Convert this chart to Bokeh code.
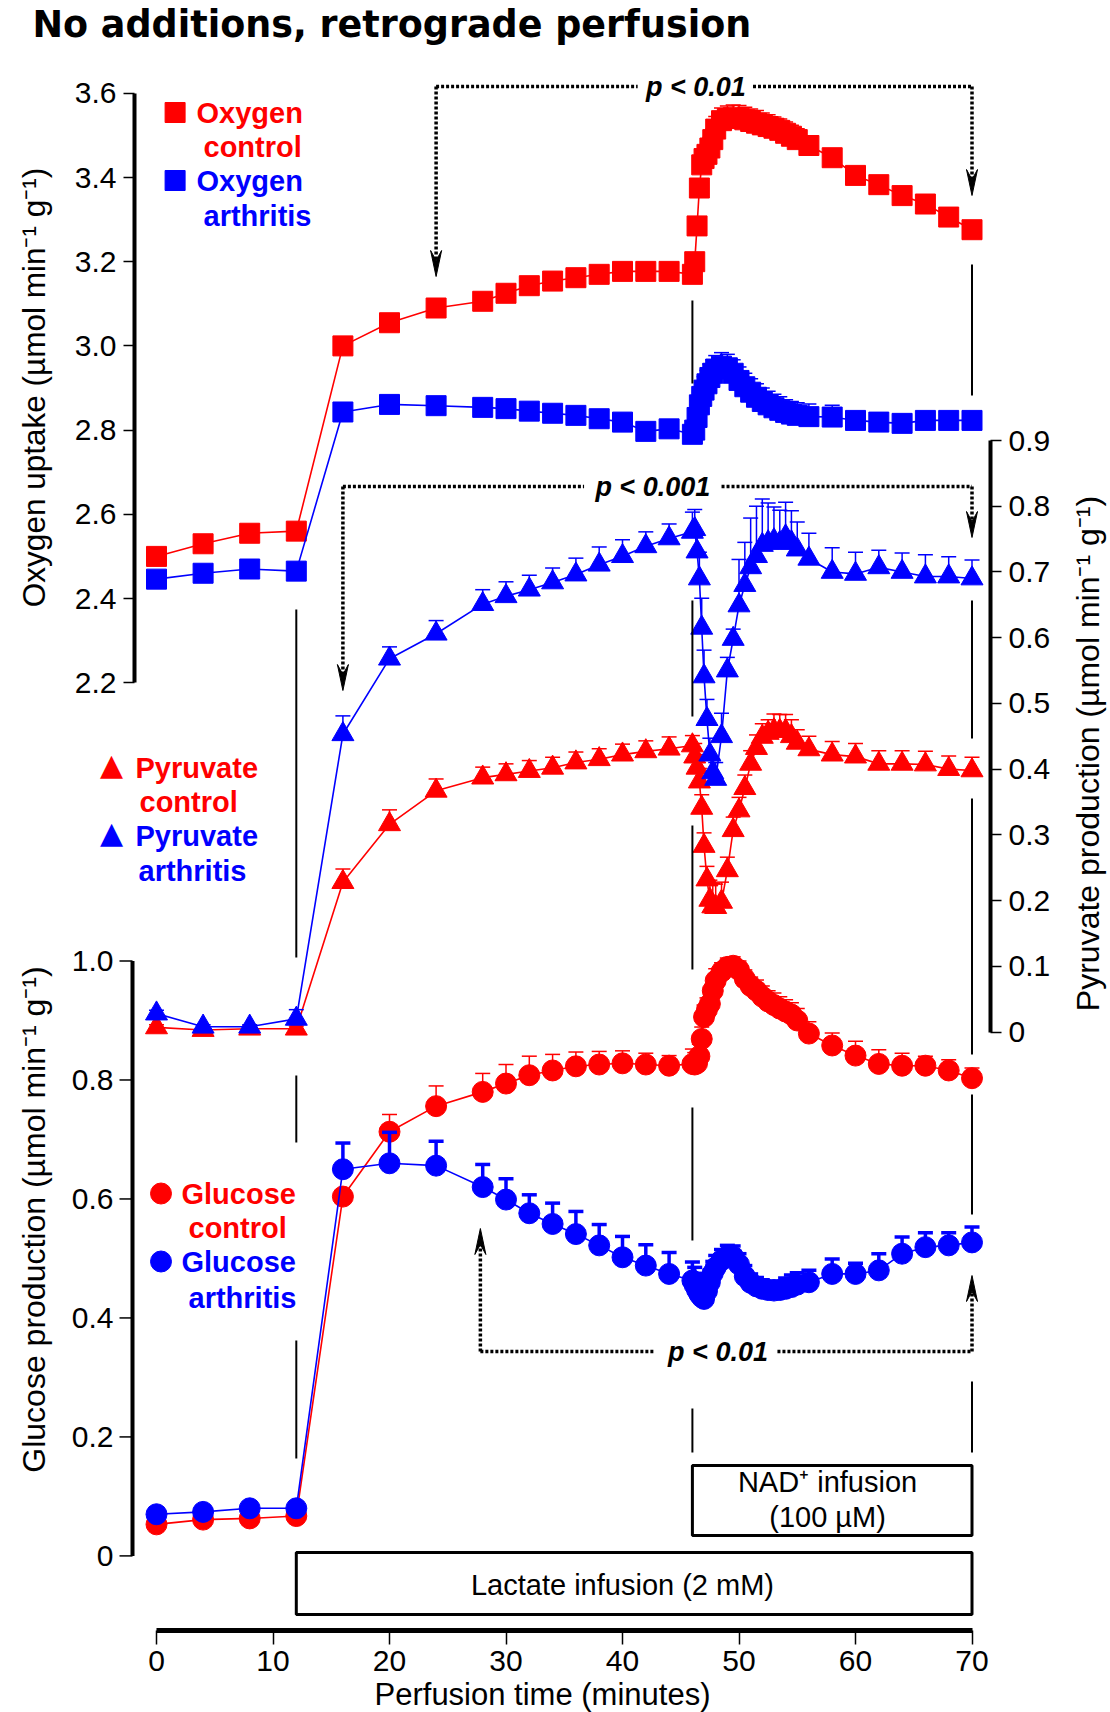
import math
from bokeh.plotting import figure
from bokeh.models import Range1d, LinearAxis, FixedTicker, Grid, NumeralTickFormatter
from bokeh.core.properties import value
from bokeh.embed import file_html
from bokeh.resources import INLINE

# ---------------- data ----------------
time_min = [0, 4, 8, 12,
            16, 20, 24, 28, 30, 32, 34, 36, 38, 40, 42, 44,
            46, 46.2, 46.4, 46.6, 46.8, 47, 47.25, 47.5, 47.75, 48, 48.5, 49, 49.5,
            50, 50.5, 51, 51.5, 52, 52.5, 53, 53.5, 54, 54.5, 55, 56,
            58, 60, 62, 64, 66, 68, 70]

oxygen_control = [2.50, 2.53, 2.555, 2.56,
                  3.00, 3.055, 3.09, 3.106, 3.125, 3.143, 3.154, 3.162, 3.170, 3.177, 3.177, 3.177,
                  3.17, 3.20, 3.285, 3.375, 3.43, 3.445, 3.455, 3.47, 3.49, 3.515, 3.535, 3.54, 3.542,
                  3.541, 3.537, 3.533, 3.529, 3.525, 3.521, 3.517, 3.512, 3.505, 3.498, 3.49, 3.476,
                  3.447, 3.405, 3.383, 3.357, 3.337, 3.306, 3.276]
oxygen_control_sem = [0.01, 0.01, 0.01, 0.01,
                      0.012, 0.012, 0.012, 0.012, 0.012, 0.012, 0.012, 0.012, 0.012, 0.012, 0.012, 0.012,
                      0.01, 0.01, 0.015, 0.02, 0.02, 0.02, 0.02, 0.025, 0.025, 0.03, 0.03, 0.03, 0.03,
                      0.03, 0.03, 0.03, 0.03, 0.028, 0.028, 0.027, 0.027, 0.027, 0.026, 0.026, 0.02,
                      0.015, 0.015, 0.015, 0.015, 0.015, 0.015, 0.015]

oxygen_arthritis = [2.446, 2.46, 2.47, 2.465,
                    2.843, 2.861, 2.858, 2.854, 2.851, 2.845, 2.840, 2.835, 2.827, 2.819, 2.797, 2.803,
                    2.79, 2.80, 2.83, 2.86, 2.88, 2.895, 2.91, 2.925, 2.935, 2.945, 2.952, 2.948, 2.935,
                    2.918, 2.903, 2.89, 2.878, 2.868, 2.86, 2.853, 2.847, 2.842, 2.838, 2.835, 2.832,
                    2.831, 2.823, 2.819, 2.816, 2.823, 2.823, 2.823]
oxygen_arthritis_sem = [0.008, 0.008, 0.008, 0.008,
                        0.01, 0.01, 0.01, 0.01, 0.01, 0.01, 0.01, 0.01, 0.01, 0.01, 0.01, 0.01,
                        0.02, 0.025, 0.03, 0.03, 0.032, 0.032, 0.032, 0.032, 0.032, 0.032, 0.032, 0.032, 0.032,
                        0.032, 0.032, 0.032, 0.032, 0.032, 0.032, 0.032, 0.032, 0.03, 0.03, 0.03, 0.03,
                        0.028, 0.02, 0.015, 0.015, 0.015, 0.015, 0.015]

pyruvate_control = [0.007, 0.003, 0.005, 0.005,
                    0.228, 0.316, 0.367, 0.387, 0.392, 0.397, 0.402, 0.410, 0.415, 0.422, 0.427, 0.431,
                    0.436, 0.419, 0.402, 0.381, 0.341, 0.283, 0.232, 0.201, 0.191, 0.19, 0.198, 0.246, 0.307,
                    0.337, 0.371, 0.408, 0.432, 0.449, 0.455, 0.459, 0.458, 0.458, 0.45, 0.44, 0.43,
                    0.422, 0.419, 0.408, 0.408, 0.407, 0.400, 0.398]
pyruvate_control_sem = [0.004, 0.004, 0.004, 0.004,
                        0.02, 0.022, 0.018, 0.016, 0.016, 0.016, 0.016, 0.016, 0.016, 0.016, 0.016, 0.018,
                        0.015, 0.02, 0.02, 0.02, 0.02, 0.02, 0.02, 0.03, 0.035, 0.035, 0.03, 0.02, 0.02,
                        0.02, 0.02, 0.02, 0.02, 0.02, 0.02, 0.025, 0.025, 0.025, 0.025, 0.02, 0.02,
                        0.02, 0.02, 0.02, 0.02, 0.02, 0.02, 0.02]

pyruvate_arthritis = [0.028, 0.008, 0.008, 0.02,
                      0.453, 0.568, 0.606, 0.651, 0.663, 0.673, 0.684, 0.696, 0.711, 0.724, 0.739, 0.751,
                      0.761, 0.765, 0.731, 0.69, 0.615, 0.541, 0.476, 0.422, 0.395, 0.385, 0.45, 0.55, 0.598,
                      0.649, 0.68, 0.707, 0.724, 0.741, 0.745, 0.748, 0.744, 0.754, 0.745, 0.734, 0.72,
                      0.70, 0.697, 0.707, 0.70, 0.693, 0.693, 0.69]
pyruvate_arthritis_sem = [0.005, 0.003, 0.003, 0.014,
                          0.028, 0.018, 0.02, 0.022, 0.022, 0.022, 0.022, 0.025, 0.027, 0.025, 0.022, 0.022,
                          0.03, 0.03, 0.025, 0.04, 0.045, 0.04, 0.03, 0.025, 0.02, 0.025, 0.035, 0.02, 0.015,
                          0.07, 0.065, 0.075, 0.076, 0.07, 0.06, 0.051, 0.05, 0.052, 0.048, 0.042, 0.039,
                          0.037, 0.033, 0.026, 0.029, 0.033, 0.03, 0.028]

glucose_control = [0.053, 0.061, 0.063, 0.067,
                   0.604, 0.713, 0.756, 0.780, 0.794, 0.808, 0.816, 0.823, 0.826, 0.828, 0.826, 0.824,
                   0.827, 0.826, 0.828, 0.84, 0.869, 0.906, 0.918, 0.928, 0.95, 0.967, 0.982, 0.99, 0.992,
                   0.985, 0.97, 0.958, 0.95, 0.94, 0.932, 0.926, 0.92, 0.915, 0.91, 0.9, 0.878,
                   0.858, 0.841, 0.827, 0.824, 0.824, 0.816, 0.803]
glucose_control_sem = [0.005, 0.005, 0.005, 0.005,
                       0.01, 0.029, 0.034, 0.031, 0.032, 0.032, 0.027, 0.024, 0.022, 0.021, 0.019, 0.017,
                       0.025, 0.02, 0.02, 0.02, 0.02, 0.02, 0.02, 0.02, 0.02, 0.02, 0.015, 0.015, 0.015,
                       0.015, 0.015, 0.015, 0.018, 0.018, 0.018, 0.02, 0.02, 0.02, 0.02, 0.02, 0.02,
                       0.021, 0.024, 0.024, 0.021, 0.016, 0.018, 0.017]

glucose_arthritis = [0.070, 0.074, 0.080, 0.080,
                     0.650, 0.660, 0.656, 0.620, 0.599, 0.576, 0.558, 0.541, 0.522, 0.502, 0.488, 0.474,
                     0.463, 0.455, 0.447, 0.44, 0.435, 0.432, 0.445, 0.46, 0.475, 0.485, 0.497, 0.504, 0.503,
                     0.49, 0.47, 0.459, 0.453, 0.449, 0.447, 0.446, 0.447, 0.449, 0.452, 0.456, 0.46,
                     0.474, 0.474, 0.480, 0.508, 0.519, 0.522, 0.527]
glucose_arthritis_sem = [0.005, 0.005, 0.005, 0.008,
                         0.044, 0.052, 0.041, 0.038, 0.035, 0.031, 0.035, 0.038, 0.035, 0.035, 0.035, 0.036,
                         0.031, 0.03, 0.028, 0.025, 0.025, 0.025, 0.022, 0.02, 0.02, 0.02, 0.018, 0.018, 0.018,
                         0.018, 0.018, 0.015, 0.015, 0.015, 0.015, 0.015, 0.015, 0.018, 0.02, 0.02, 0.02,
                         0.025, 0.018, 0.028, 0.028, 0.024, 0.021, 0.026]

time_ticks = [0, 10, 20, 30, 40, 50, 60, 70]
oxygen_ticks = [2.2, 2.4, 2.6, 2.8, 3.0, 3.2, 3.4, 3.6]
pyruvate_ticks = [0, 0.1, 0.2, 0.3, 0.4, 0.5, 0.6, 0.7, 0.8, 0.9]
glucose_ticks = [0, 0.2, 0.4, 0.6, 0.8, 1.0]
glucose_tick_labels = ["0", "0.2", "0.4", "0.6", "0.8", "1.0"]

lactate_start, nad_start, end_time = 12, 46, 70

for arr in (oxygen_control, oxygen_control_sem, oxygen_arthritis, oxygen_arthritis_sem,
            pyruvate_control, pyruvate_control_sem, pyruvate_arthritis, pyruvate_arthritis_sem,
            glucose_control, glucose_control_sem, glucose_arthritis, glucose_arthritis_sem):
    assert len(arr) == len(time_min)

# ---------------- layout ----------------
RED = "#ff0000"
BLUE = "#0000ff"
W, H = 1110, 1712
FL, FR, FT, FB = 134, 990, 60, 1630          # frame edges (px)
X0_PX, X70_PX = 156.0, 971.5                  # where 0 and 70 min sit
PPM = (X70_PX - X0_PX) / 70.0                 # px per minute


def px_to_min(px):
    return (px - X0_PX) / PPM


def value_range(v_lo, px_lo, v_hi, px_hi):
    slope = (px_lo - px_hi) / (v_hi - v_lo)
    return Range1d(v_lo - (FB - px_lo) / slope, v_hi + (px_hi - FT) / slope)


p = figure(width=W, height=H, output_backend="svg", toolbar_location=None,
           x_range=Range1d(px_to_min(FL), px_to_min(FR)),
           y_range=Range1d(FB, FT),                 # default range = page pixels (decorations)
           x_axis_location=None, y_axis_location=None,
           min_border_left=FL, min_border_right=W - FR,
           min_border_top=FT, min_border_bottom=H - FB)
p.outline_line_color = None
p.background_fill_color = "white"
p.border_fill_color = "white"
p.title.visible = False
p.center = [r for r in p.center if not isinstance(r, Grid)]

p.extra_y_ranges = {
    "oxy": value_range(2.2, 682.2, 3.6, 92.8),
    "pyr": value_range(0.0, 1031.5, 0.9, 440.0),
    "glu": value_range(0.0, 1555.4, 1.0, 960.5),
}

TICK_FONT = "Liberation Sans"


def style_axis(ax, tick_out=11, standoff=7, line_w=4):
    ax.axis_line_width = line_w
    ax.axis_line_color = "black"
    ax.major_tick_line_width = 1.5
    ax.major_tick_line_color = "black"
    ax.major_tick_in = 0
    ax.major_tick_out = tick_out
    ax.minor_tick_line_color = None
    ax.major_label_text_font = TICK_FONT
    ax.major_label_text_font_size = "30px"
    ax.major_label_text_color = "black"
    ax.major_label_standoff = standoff


ax_oxy = LinearAxis(y_range_name="oxy", bounds=(2.2, 3.6), ticker=FixedTicker(ticks=oxygen_ticks),
                    formatter=NumeralTickFormatter(format="0.0"))
style_axis(ax_oxy)
p.add_layout(ax_oxy, "left")

ax_pyr = LinearAxis(y_range_name="pyr", bounds=(0, 0.9), ticker=FixedTicker(ticks=pyruvate_ticks))
style_axis(ax_pyr)
ax_pyr.major_label_overrides = {0: "0"}
p.add_layout(ax_pyr, "right")

ax_t = LinearAxis(bounds=(0, 70), ticker=FixedTicker(ticks=time_ticks))
style_axis(ax_t, tick_out=14, standoff=6, line_w=5)
p.add_layout(ax_t, "below")

# ---- glucose axis (shares the left edge with the oxygen axis) ----
GX = px_to_min(132)
tick_len = 13 / PPM
p.segment(x0=[GX], y0=[0], x1=[GX], y1=[1.0], y_range_name="glu",
          line_color="black", line_width=4, level="overlay")
p.segment(x0=[GX] * len(glucose_ticks), y0=glucose_ticks,
          x1=[GX - tick_len] * len(glucose_ticks), y1=glucose_ticks,
          y_range_name="glu", line_color="black", line_width=1.5, level="overlay")
p.text(x=[GX - tick_len - 6 / PPM] * len(glucose_ticks), y=glucose_ticks, text=glucose_tick_labels,
       y_range_name="glu", text_font=value(TICK_FONT), text_font_size="30px",
       text_align="right", text_baseline="middle", text_color="black", level="overlay")


# ---------------- series ----------------
def draw_series(vals, sems, rng, color, marker, size, err_w, cap):
    tops = [v + e for v, e in zip(vals, sems)]
    p.line(time_min, vals, y_range_name=rng, line_color=color, line_width=1.6)
    p.segment(x0=time_min, y0=vals, x1=time_min, y1=tops, y_range_name=rng,
              line_color=color, line_width=err_w)
    p.scatter(time_min, tops, marker="dash", size=cap, line_color=color,
              line_width=err_w, y_range_name=rng)
    p.scatter(time_min, vals, marker=marker, size=size, fill_color=color,
              line_color=color, y_range_name=rng)


draw_series(oxygen_control, oxygen_control_sem, "oxy", RED, "square", 20, 1.5, 15)
draw_series(oxygen_arthritis, oxygen_arthritis_sem, "oxy", BLUE, "square", 20, 1.5, 15)
draw_series(pyruvate_control, pyruvate_control_sem, "pyr", RED, "triangle", 22, 1.5, 15)
draw_series(pyruvate_arthritis, pyruvate_arthritis_sem, "pyr", BLUE, "triangle", 22, 1.5, 15)
draw_series(glucose_control, glucose_control_sem, "glu", RED, "circle", 21, 1.5, 15)
draw_series(glucose_arthritis, glucose_arthritis_sem, "glu", BLUE, "circle", 21, 3.5, 15)


# ---------------- texts ----------------
def label(x, y, text, color="black", size="30px", font="Liberation Sans", style="normal",
          align="left", angle=0.0, baseline="middle"):
    p.text(x=[x], y=[y], text=[text], text_color=color, text_font=value(font),
           text_font_size=size, text_font_style=style, text_align=align,
           text_baseline=baseline, angle=angle, level="overlay")


label(px_to_min(32), 24, "No additions, retrograde perfusion", font="DejaVu Sans",
      size="36.5px", style="bold")

label(px_to_min(33), 387, "Oxygen uptake (µmol min⁻¹ g⁻¹)", align="center", angle=math.pi / 2, size="31.5px")
label(px_to_min(33), 1219, "Glucose production (µmol min⁻¹ g⁻¹)", align="center", angle=math.pi / 2, size="32px")
label(px_to_min(1087), 753, "Pyruvate production (µmol min⁻¹ g⁻¹)", align="center", angle=math.pi / 2, size="32px")
label(px_to_min(542), 1694, "Perfusion time (minutes)", align="center", size="31px")

# legends
LEG = dict(font="Liberation Sans", size="29px", style="bold")
p.scatter([px_to_min(174.6)] * 2, [112, 180], marker="square", size=20,
          fill_color=[RED, BLUE], line_color=[RED, BLUE], level="overlay")
label(px_to_min(196), 112, "Oxygen", RED, **LEG)
label(px_to_min(203), 146, "control", RED, **LEG)
label(px_to_min(196), 180, "Oxygen", BLUE, **LEG)
label(px_to_min(203), 215, "arthritis", BLUE, **LEG)

# pyruvate legend symbols sit left of the plotting frame -> drawn as text symbols
label(px_to_min(111), 764, "▲", RED, font="DejaVu Sans", size="30px", align="center",
      baseline="alphabetic")
label(px_to_min(111), 832, "▲", BLUE, font="DejaVu Sans", size="30px", align="center",
      baseline="alphabetic")
label(px_to_min(135), 767, "Pyruvate", RED, **LEG)
label(px_to_min(139), 801, "control", RED, **LEG)
label(px_to_min(135), 835, "Pyruvate", BLUE, **LEG)
label(px_to_min(138), 870, "arthritis", BLUE, **LEG)

p.scatter([px_to_min(160.5)] * 2, [1193, 1261], marker="circle", size=21,
          fill_color=[RED, BLUE], line_color=[RED, BLUE], level="overlay")
label(px_to_min(181), 1193, "Glucose", RED, **LEG)
label(px_to_min(188), 1227, "control", RED, **LEG)
label(px_to_min(181), 1261, "Glucose", BLUE, **LEG)
label(px_to_min(188), 1297, "arthritis", BLUE, **LEG)

# ---------------- markers of infusion periods ----------------
seg_x = [lactate_start] * 3 + [nad_start] * 5 + [end_time] * 5
seg_y0 = [609, 1075, 1340, 300, 600, 825, 1107, 1408, 264, 600, 798, 1094, 1381]
seg_y1 = [957, 1142, 1458, 383, 716, 969, 1240, 1452, 395, 738, 1054, 1214, 1452]
p.segment(x0=seg_x, y0=seg_y0, x1=seg_x, y1=seg_y1, line_color="black", line_width=2)

p.quad(left=[nad_start, lactate_start], right=[end_time, end_time], top=[1465, 1552],
       bottom=[1535, 1614], fill_color=None, line_color="black", line_width=3)
label((nad_start + end_time) / 2 - 0.4, 1481, "NAD⁺ infusion", align="center", size="29px")
label((nad_start + end_time) / 2 - 0.4, 1516, "(100 µM)", align="center", size="29px")
label(40, 1584, "Lactate infusion (2 mM)", align="center", size="29px")


# ---------------- significance brackets ----------------
def bracket(x_left, x_right, y_line, tip_left, tip_right, gap, text, text_x, down=True):
    dot = dict(line_color="black", line_width=3.5, line_dash="3 2")
    p.segment(x0=[x_left, gap[1]], y0=[y_line, y_line], x1=[gap[0], x_right], y1=[y_line, y_line], **dot)
    L, N, w = 26, 16, 5.5 / PPM
    s = -1 if down else 1
    xs, ys = [], []
    for x, tip in ((x_left, tip_left), (x_right, tip_right)):
        p.segment(x0=[x], y0=[y_line], x1=[x], y1=[tip + s * N], **dot)
        xs.append([x, x - w, x, x + w])
        ys.append([tip, tip + s * L, tip + s * N, tip + s * L])
    p.patches(xs, ys, fill_color="black", line_color="black", line_width=1)
    label(text_x, y_line, text, size="27px", style="bold italic", align="center")


bracket(24, end_time, 86, 276, 195, (41.3, 51.2), "p < 0.01", 46.3)
bracket(16, end_time, 486, 690, 537, (36.7, 48.5), "p < 0.001", 42.6)
bracket(27.8, end_time, 1351, 1228, 1275, (42.8, 53.3), "p < 0.01", 48.2, down=False)

open("out.html", "w").write(file_html(p, INLINE))
